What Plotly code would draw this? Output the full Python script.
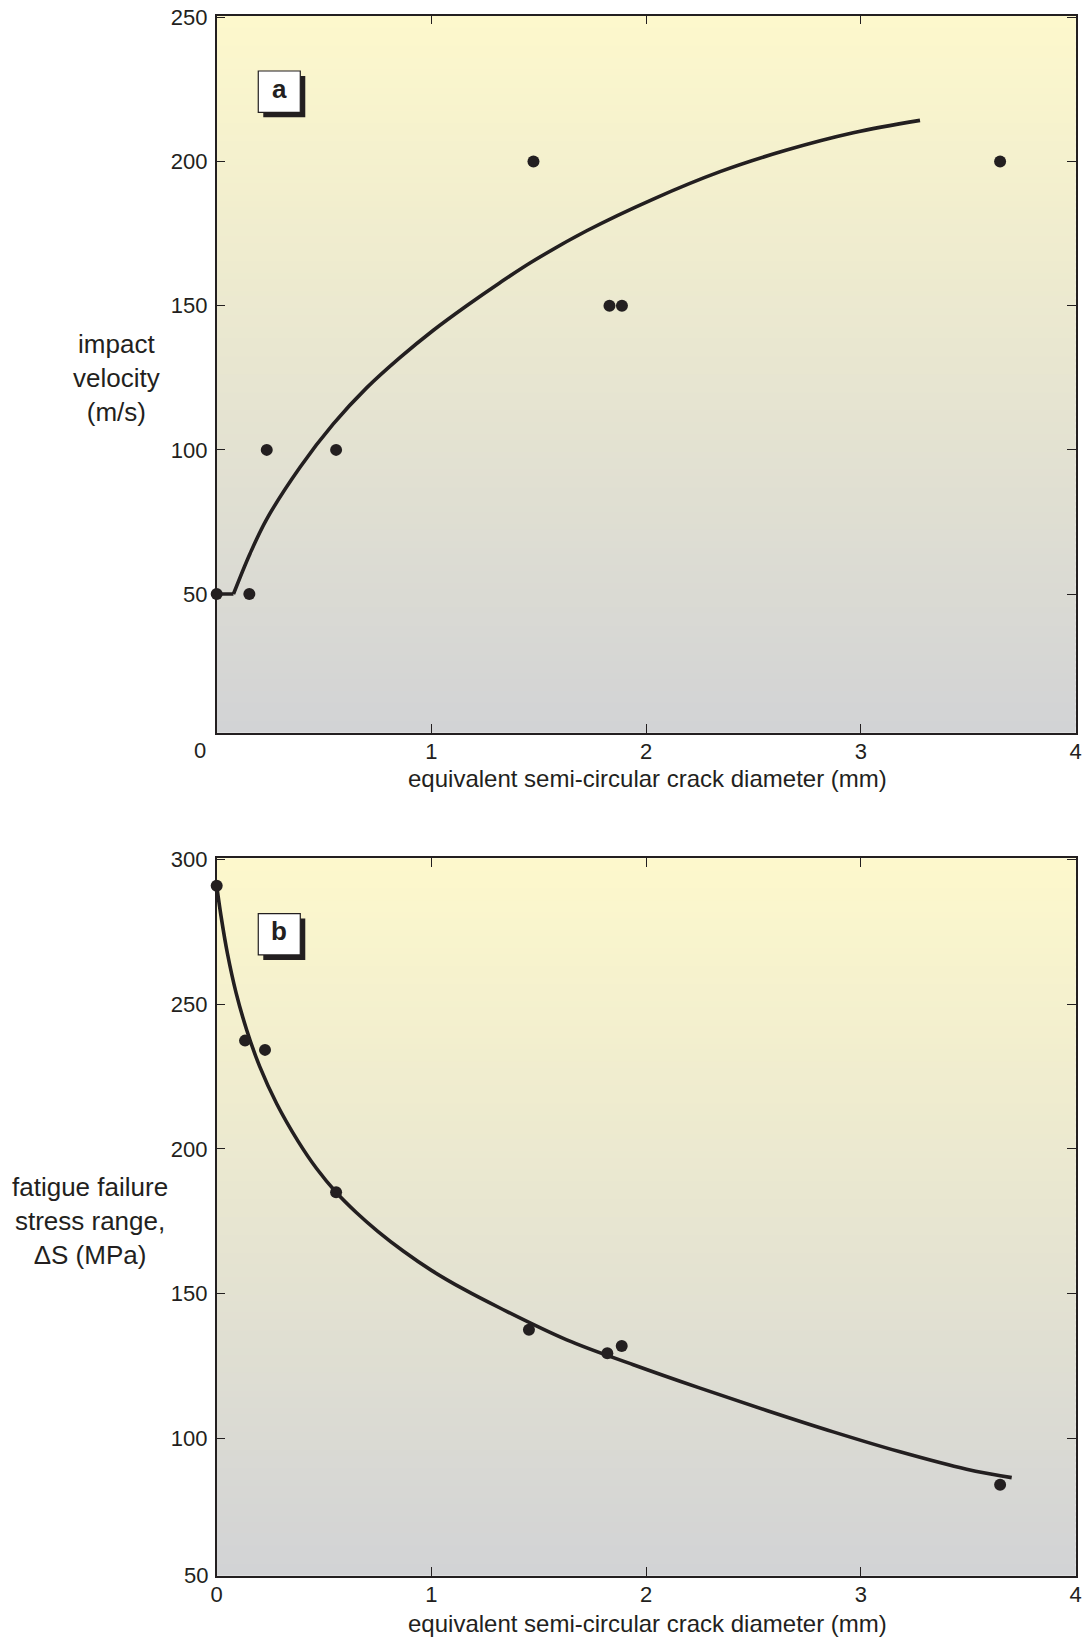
import plotly.graph_objects as go

# ---- data -------------------------------------------------------------
# (a) impact velocity vs equivalent crack diameter
imp_d = [0.0, 0.152, 0.233, 0.556, 1.475, 1.829, 1.887, 3.648]
imp_v = [50, 50, 100, 100, 200, 150, 150, 200]

# trend line for (a): short flat lead-in, then the fitted curve
imp_flat_d = [0.0, 0.078]
imp_flat_v = [50, 50]
imp_fit_d = [0.078, 0.155, 0.233, 0.388, 0.543, 0.698, 0.853, 1.009, 1.164,
             1.319, 1.474, 1.723, 2.033, 2.344, 2.654, 2.964, 3.275]
imp_fit_v = [50, 64.0, 76.0, 94.0, 109.0, 121.5, 132.0, 141.5, 150.0,
             158.0, 165.5, 176.0, 187.0, 196.5, 204.0, 210.0, 214.3]

# (b) fatigue failure stress range vs equivalent crack diameter
fat_d = [0.0, 0.132, 0.225, 0.556, 1.454, 1.819, 1.886, 3.648]
fat_s = [290.9, 237.4, 234.2, 185.0, 137.5, 129.4, 131.9, 83.9]

fat_fit_d = [0.0, 0.02, 0.05, 0.09, 0.14, 0.20, 0.28, 0.38, 0.465, 0.556,
             0.65, 0.75, 0.87, 1.0, 1.15, 1.319, 1.630, 1.940, 2.251, 2.561,
             2.871, 3.182, 3.492, 3.702]
fat_fit_s = [290.9, 280.5, 267.5, 254.0, 241.0, 228.5, 215.5, 202.5, 193.2,
             185.0, 178.0, 171.5, 164.6, 158.0, 151.5, 145.0, 134.0, 125.4,
             117.3, 109.6, 102.2, 95.3, 89.3, 86.4]

x_ticks = [0, 1, 2, 3, 4]
imp_ticks = [50, 100, 150, 200, 250]
fat_ticks = [100, 150, 200, 250, 300]

x_title = "equivalent semi-circular crack diameter (mm)"
imp_title = "impact<br>velocity<br>(m/s)"
fat_title = "fatigue failure<br>stress range,<br>\u0394S (MPa)"

# ---- styling ----------------------------------------------------------
INK = "#231f20"
FONT = "Liberation Sans, Arial, sans-serif"
TOP_RGB = (253, 248, 204)
BOT_RGB = (210, 211, 213)

W, H = 1088, 1637
dom_x = [216.7 / W, 1075.7 / W]
dom_a = [1 - 732.7 / H, 1 - 15.7 / H]
dom_b = [1 - 1575.7 / H, 1 - 858.3 / H]

fig = go.Figure()

# scatter points + fitted curves
fig.add_trace(go.Scatter(x=imp_flat_d, y=imp_flat_v, mode="lines",
                         line=dict(color=INK, width=3.6), xaxis="x", yaxis="y",
                         cliponaxis=False, showlegend=False, hoverinfo="skip"))
fig.add_trace(go.Scatter(x=imp_fit_d, y=imp_fit_v, mode="lines",
                         line=dict(color=INK, width=3.6, shape="spline", smoothing=1.0),
                         xaxis="x", yaxis="y", cliponaxis=False, showlegend=False))
fig.add_trace(go.Scatter(x=imp_d, y=imp_v, mode="markers",
                         marker=dict(color=INK, size=12), xaxis="x", yaxis="y",
                         cliponaxis=False, showlegend=False))

fig.add_trace(go.Scatter(x=fat_fit_d, y=fat_fit_s, mode="lines",
                         line=dict(color=INK, width=3.6, shape="spline", smoothing=1.0),
                         xaxis="x2", yaxis="y2", cliponaxis=False, showlegend=False))
fig.add_trace(go.Scatter(x=fat_d, y=fat_s, mode="markers",
                         marker=dict(color=INK, size=12), xaxis="x2", yaxis="y2",
                         cliponaxis=False, showlegend=False))

# vertical yellow-to-grey gradient behind each plot area
shapes = []
N = 120
for xr, yr in (("x domain", "y domain"), ("x2 domain", "y2 domain")):
    for i in range(N):
        t = i / (N - 1)
        r, g, b = (round(BOT_RGB[k] + (TOP_RGB[k] - BOT_RGB[k]) * t) for k in range(3))
        shapes.append(dict(type="rect", xref=xr, yref=yr, x0=0, x1=1,
                           y0=i / N, y1=min(1, (i + 1.6) / N),
                           fillcolor=f"rgb({r},{g},{b})", line=dict(width=0),
                           layer="below"))

# panel letter boxes with drop shadow
annotations = []
for xr, yr, letter in (("x domain", "y domain", "a"), ("x2 domain", "y2 domain", "b")):
    bx0, bx1, by0, by1 = 0.0484, 0.0973, 0.8653, 0.9229
    dx, dy = 5 / 859, 5 / 717
    shapes.append(dict(type="rect", xref=xr, yref=yr, x0=bx0 + dx, x1=bx1 + dx,
                       y0=by0 - dy, y1=by1 - dy, fillcolor=INK,
                       line=dict(width=0), layer="above"))
    shapes.append(dict(type="rect", xref=xr, yref=yr, x0=bx0, x1=bx1,
                       y0=by0, y1=by1, fillcolor="white",
                       line=dict(color=INK, width=1.2), layer="above"))
    annotations.append(dict(text=f"<b>{letter}</b>", xref=xr, yref=yr,
                            x=(bx0 + bx1) / 2, y=(by0 + by1) / 2 + 0.004,
                            showarrow=False, xanchor="center", yanchor="middle",
                            font=dict(family=FONT, size=26, color=INK)))

# axis titles
annotations += [
    dict(text=imp_title, xref="paper", yref="paper", x=116 / W, y=1 - 378 / H,
         showarrow=False, xanchor="center", yanchor="middle", align="center",
         font=dict(family=FONT, size=26, color=INK)),
    dict(text=fat_title, xref="paper", yref="paper", x=90 / W, y=1 - 1221 / H,
         showarrow=False, xanchor="center", yanchor="middle", align="center",
         font=dict(family=FONT, size=26, color=INK)),
    dict(text=x_title, xref="paper", yref="paper", x=647 / W, y=1 - 778 / H,
         showarrow=False, xanchor="center", yanchor="middle",
         font=dict(family=FONT, size=24, color=INK)),
    dict(text=x_title, xref="paper", yref="paper", x=647 / W, y=1 - 1623 / H,
         showarrow=False, xanchor="center", yanchor="middle",
         font=dict(family=FONT, size=24, color=INK)),
    # shared corner label of panel (a) and bottom label of panel (b)
    dict(text="0", xref="paper", yref="paper", x=200 / W, y=1 - 750 / H,
         showarrow=False, xanchor="center", yanchor="middle",
         font=dict(family=FONT, size=22, color=INK)),
    dict(text="50", xref="paper", yref="paper", x=209.5 / W, y=1 - 1575 / H,
         showarrow=False, xanchor="right", yanchor="middle",
         font=dict(family=FONT, size=22, color=INK)),
]

tick_font = dict(family=FONT, size=22, color=INK)
axis_common = dict(showline=True, linecolor=INK, linewidth=1.5, mirror="ticks",
                   ticks="inside", ticklen=9, tickwidth=1.2, tickcolor=INK,
                   showgrid=False, zeroline=False, tickfont=tick_font,
                   fixedrange=True, automargin=False)

fig.update_layout(
    width=W, height=H,
    margin=dict(l=0, r=0, t=0, b=0, autoexpand=False),
    paper_bgcolor="white", plot_bgcolor="white",
    showlegend=False,
    xaxis=dict(domain=dom_x, range=[0, 4], anchor="y", tickvals=x_ticks,
               ticktext=["", "1", "2", "3", "4"], ticklabelstandoff=-2,
               **axis_common),
    yaxis=dict(domain=dom_a, range=[1.9, 250.6], anchor="x", tickvals=imp_ticks,
               ticklabelstandoff=3, **axis_common),
    xaxis2=dict(domain=dom_x, range=[0, 4], anchor="y2", tickvals=x_ticks,
                ticklabelstandoff=-2, **axis_common),
    yaxis2=dict(domain=dom_b, range=[52.5, 300.4], anchor="x2", tickvals=fat_ticks,
                ticklabelstandoff=3, **axis_common),
    shapes=shapes,
    annotations=annotations,
)

fig.write_html("out.html")
